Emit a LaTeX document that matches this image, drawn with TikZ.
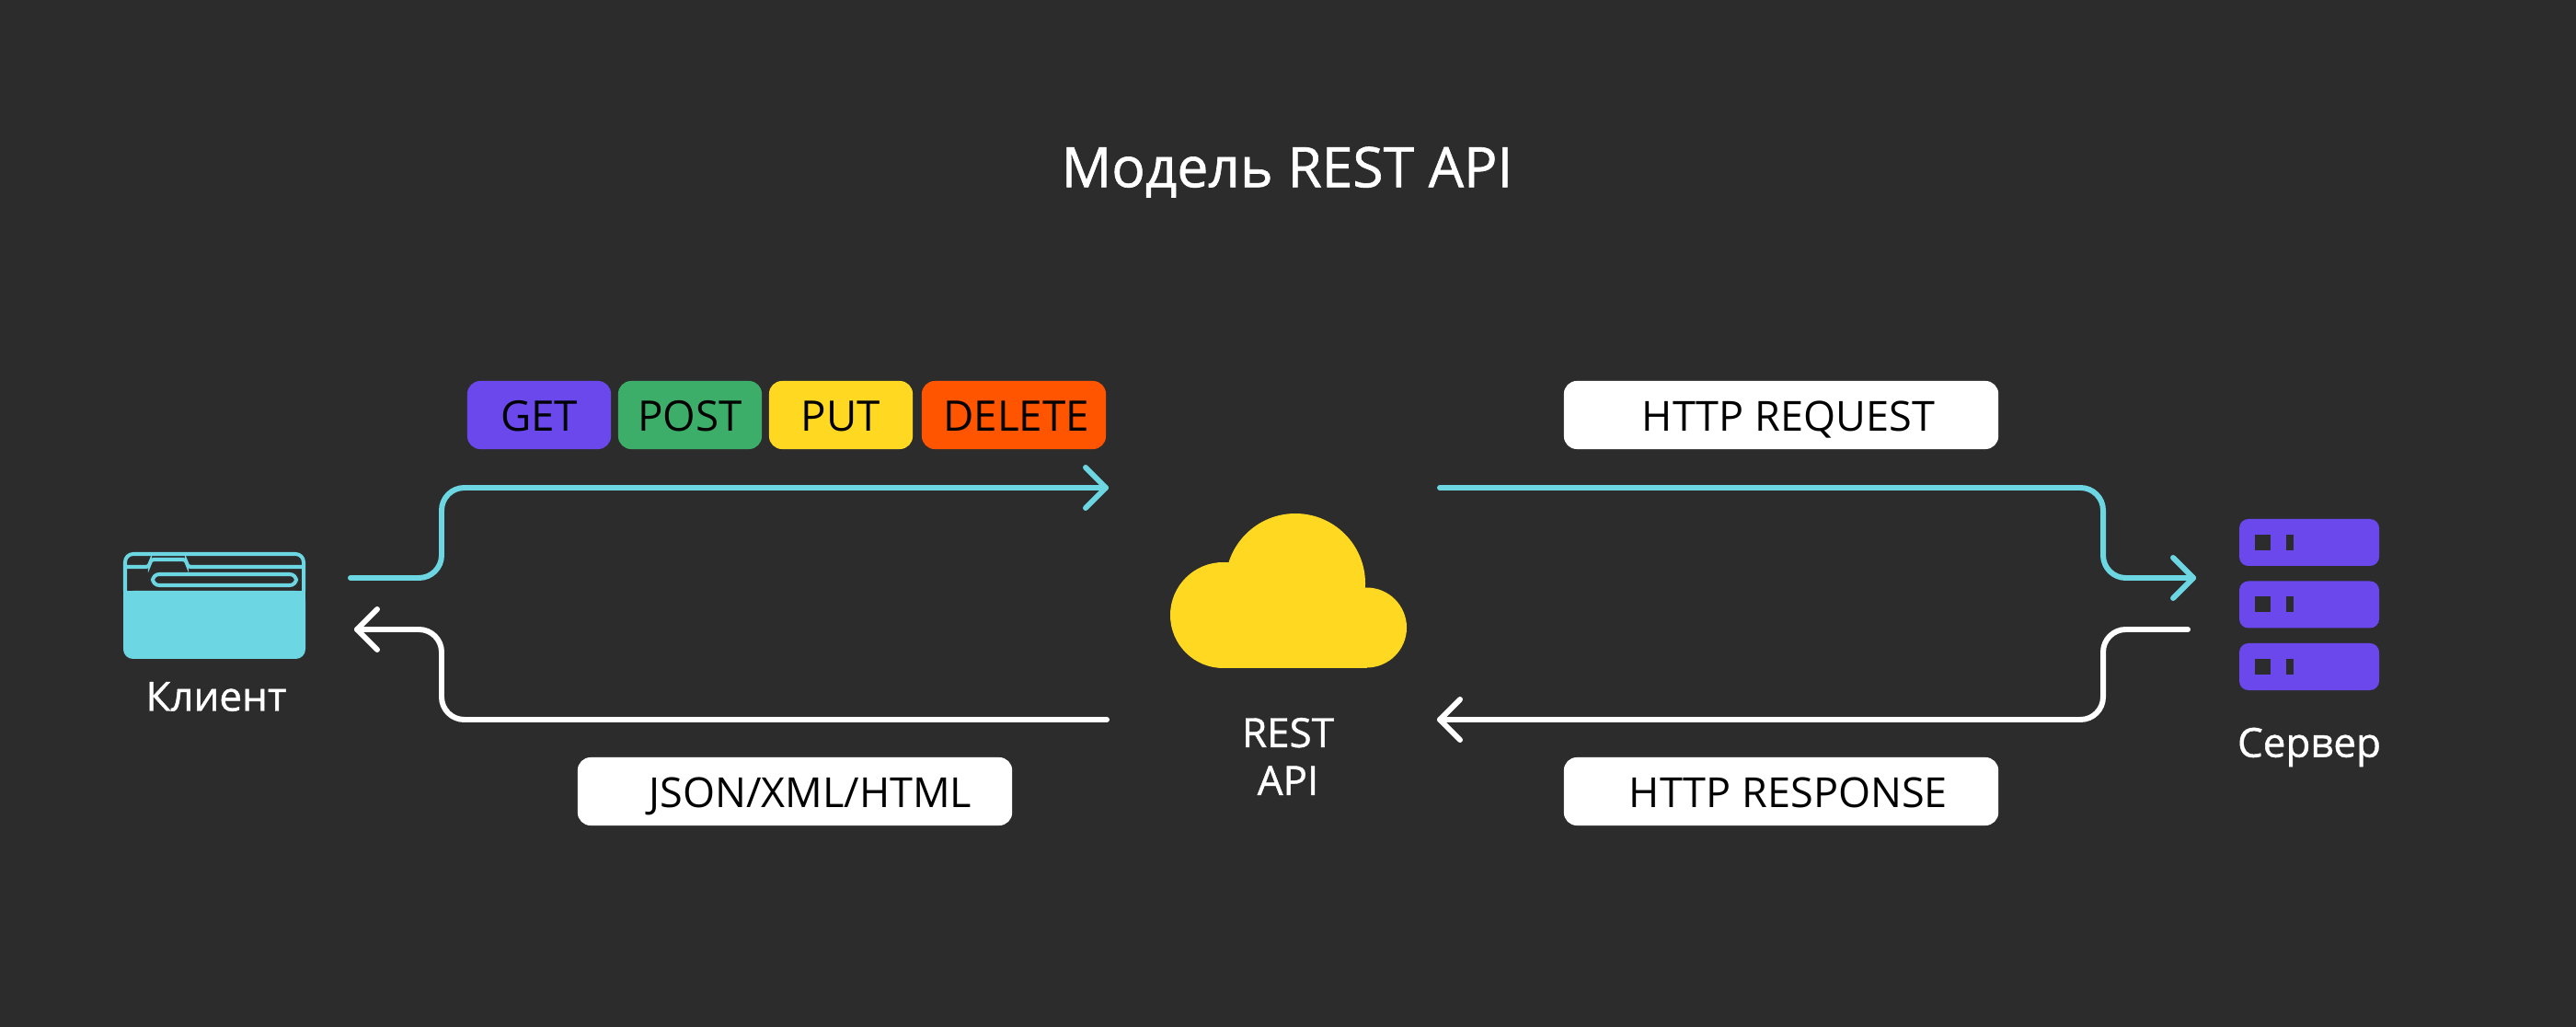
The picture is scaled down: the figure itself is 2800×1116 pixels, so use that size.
\documentclass[tikz,border=0pt]{standalone}
\usepackage{fontspec}
\setmainfont{Open Sans}
\newfontfamily\capfont{Open Sans}[FakeBold=1]
\definecolor{bgc}{HTML}{2C2C2C}
\definecolor{cyanc}{HTML}{6CD7E2}
\definecolor{violetc}{HTML}{6A48EC}
\definecolor{greenc}{HTML}{3CAE69}
\definecolor{yellowc}{HTML}{FFD921}
\definecolor{orangec}{HTML}{FF5500}
\tikzset{
  pill/.style={rounded corners=3.98pt,inner sep=0pt,minimum height=21.05pt,text=black,font=\fontsize{13}{15}\selectfont,text height=10.1pt,text depth=0pt},
  wpill/.style={pill,fill=white,minimum width=134.3pt,font=\fontsize{12.8}{15}\selectfont},
  flow/.style={line width=1.7pt,rounded corners=7pt,line cap=round,line join=round},
  tip/.style={line width=1.7pt,line cap=round,line join=round},
  captext/.style={text=white,font=\capfont\fontsize{12.5}{14.8}\selectfont,align=center,inner sep=0pt},
}
\begin{document}
\begin{tikzpicture}[x=0.01cm,y=-0.01cm]
\fill[bgc] (0,0) rectangle (2800,1116);
\useasboundingbox (0,0) rectangle (2800,1116);
% title
\node[captext,font=\capfont\fontsize{17.2}{22}\selectfont] (title) at (1399,187) {Модель REST API};
% pills
\node[pill,fill=violetc,minimum width=44.4pt] (get) at (586,451) {GET};
\node[pill,fill=greenc,minimum width=44.4pt] (post) at (750,451) {POST};
\node[pill,fill=yellowc,minimum width=44.4pt] (put) at (914,451) {PUT};
\node[pill,fill=orangec,minimum width=56.9pt] (delete) at (1102,451) {\hspace*{1.5pt}DELETE};
\node[wpill] (req) at (1936,451) {\hspace*{4.5pt}HTTP REQUEST};
\node[wpill] (resp) at (1936,860) {\hspace*{4.5pt}HTTP RESPONSE};
\node[wpill] (json) at (864,860) {\hspace*{9.5pt}JSON/XML/HTML};
% client icon
\fill[cyanc,rounded corners=3pt] (134,642) rectangle (332,716);
\fill[cyanc] (134,642) rectangle (332,660);
\draw[cyanc,line width=1.14pt,rounded corners=2.5pt] (136,642) -- (136,602) -- (330,602) -- (330,642);
\draw[cyanc,line width=1.14pt,rounded corners=1.2pt] (136,616) -- (163,616) -- (163,608) -- (203,608) -- (203,616) -- (330,616);
\draw[cyanc,line width=1.14pt,rounded corners=2pt] (166,624) rectangle (322,636);
\coordinate (clientR) at (381,628);
\coordinate (clientIn) at (388,684);
\node[captext] (client) at (235,757) {Клиент};
% cloud
\fill[yellowc] (1408,634) circle (76) (1329.5,668.5) circle (57.5) (1485.5,682) circle (43.5);
\fill[yellowc] (1329.5,640) rectangle (1485.5,726);
\coordinate (apiNW) at (1202,530);
\coordinate (apiNE) at (1565,530);
\coordinate (apiSW) at (1203,782);
\coordinate (apiSE) at (1565,782);
\node[captext] (api) at (1400,822) {REST\\API};
% server
\foreach \yy in {564,631.5,699}{
  \fill[violetc,rounded corners=2.8pt] (2434,\yy) rectangle (2586,\yy+51);
  \fill[bgc] (2451,\yy+17) rectangle (2468,\yy+34);
  \fill[bgc] (2485,\yy+17) rectangle (2493,\yy+34);
}
\coordinate (srvIn) at (2384,628);
\coordinate (srvOut) at (2378,684);
\node[captext] (server) at (2510,812) {Сервер};
% connectors
\draw[flow,cyanc] (clientR) -| (480,530) -- (apiNW);
\draw[tip,cyanc] (1180,508) -- (apiNW) -- (1180,552);
\draw[flow,white] (apiSW) -| (480,684) -- (clientIn);
\draw[tip,white] (410,662) -- (clientIn) -- (410,706);
\draw[flow,cyanc] (apiNE) -| (2286,628) -- (srvIn);
\draw[tip,cyanc] (2362,606) -- (srvIn) -- (2362,650);
\draw[flow,white] (srvOut) -| (2286,782) -- (apiSE);
\draw[tip,white] (1587,760) -- (apiSE) -- (1587,804);
\end{tikzpicture}
\end{document}
